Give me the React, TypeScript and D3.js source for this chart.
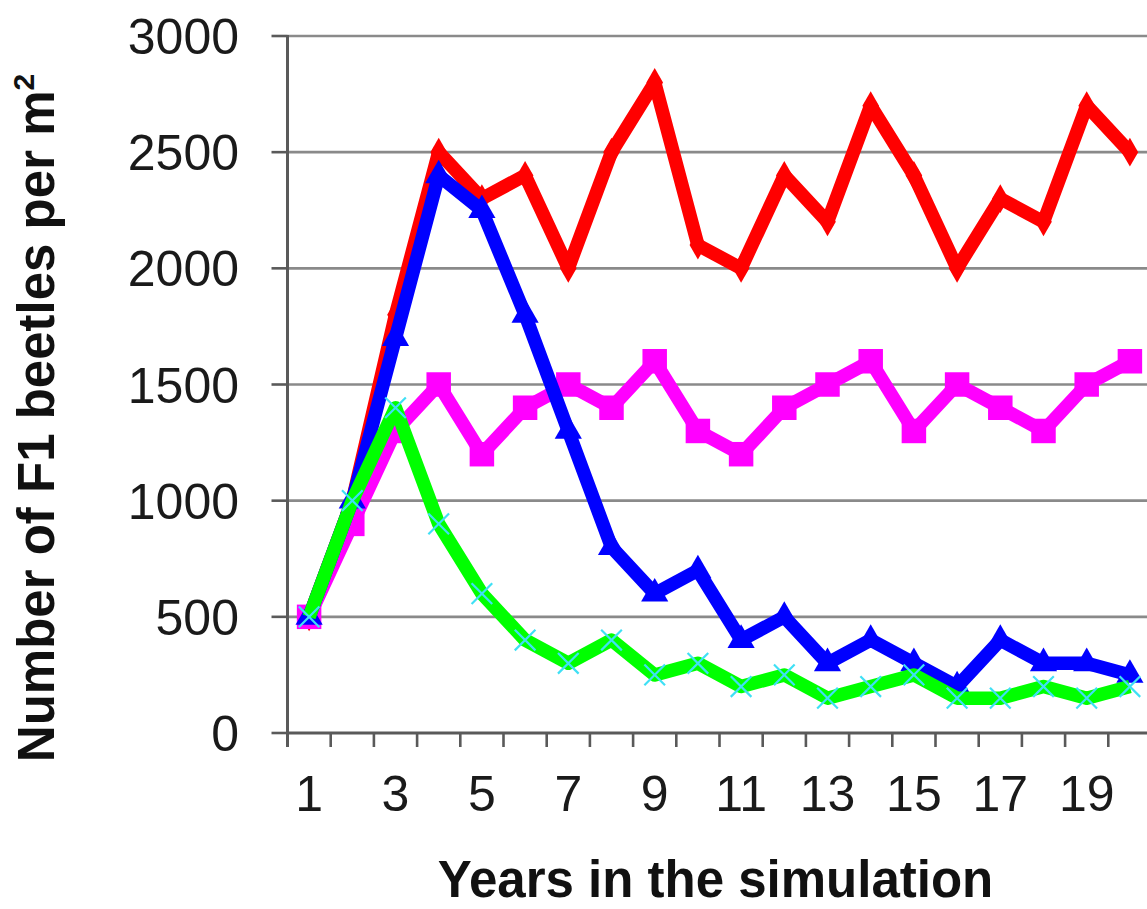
import React from "react";
import * as d3 from "d3";

const years = [1, 2, 3, 4, 5, 6, 7, 8, 9, 10, 11, 12, 13, 14, 15, 16, 17, 18, 19, 20];
const redSeries = [500, 1000, 1800, 2500, 2300, 2400, 2000, 2500, 2800, 2100, 2000, 2400, 2200, 2700, 2400, 2000, 2300, 2200, 2700, 2500];
const magentaSeries = [500, 900, 1300, 1500, 1200, 1400, 1500, 1400, 1600, 1300, 1200, 1400, 1500, 1600, 1300, 1500, 1400, 1300, 1500, 1600];
const blueSeries = [500, 1000, 1700, 2400, 2250, 1800, 1300, 800, 600, 700, 400, 500, 300, 400, 300, 200, 400, 300, 300, 250];
const greenSeries = [500, 1000, 1400, 900, 600, 400, 300, 400, 250, 300, 200, 250, 150, 200, 250, 150, 150, 200, 150, 200];
const yTicks = [0, 500, 1000, 1500, 2000, 2500, 3000];
const xTickLabels = ["1", "3", "5", "7", "9", "11", "13", "15", "17", "19"];

const W = 1147;
const H = 909;
const left = 287.5;
const right = 1151.5;
const top = 36;
const bottom = 733;

const FONT = "'Liberation Sans', Arial, Helvetica, sans-serif";

export default function App() {
  const x = d3.scaleBand<string>().domain(years.map(String)).range([left, right]).paddingInner(0).paddingOuter(0);
  const y = d3.scaleLinear().domain([0, 3000]).range([bottom, top]);
  const cx = (i: number) => (x(String(years[i])) as number) + x.bandwidth() / 2;
  const line = d3
    .line<number>()
    .x((_, i) => cx(i))
    .y((v) => y(v));

  const boundaries = years.map((yr) => x(String(yr)) as number).concat([right]);

  const diamond = d3.symbol().type(d3.symbolDiamond).size(240)() as string;
  const square = d3.symbol().type(d3.symbolSquare).size(600)() as string;
  const triangle = d3.symbol().type(d3.symbolTriangle).size(320)() as string;
  const cross = d3.symbol().type(d3.symbolX).size(280)() as string;

  const lw = 13.5;

  return (
    <svg
      width={W}
      height={H}
      style={{ position: "absolute", left: 0, top: 0, background: "#fff" }}
      xmlns="http://www.w3.org/2000/svg"
    >
      <rect x={0} y={0} width={W} height={H} fill="#fff" />
      {/* gridlines */}
      {yTicks.slice(1).map((t) => (
        <line key={"g" + t} x1={left} x2={right} y1={y(t)} y2={y(t)} stroke="#8a8a8a" strokeWidth={2.6} />
      ))}
      {/* y axis */}
      <line x1={left} x2={left} y1={top - 1} y2={bottom + 14} stroke="#5a5a5a" strokeWidth={3} />
      {yTicks.map((t) => (
        <line key={"yt" + t} x1={left - 16} x2={left} y1={y(t)} y2={y(t)} stroke="#5a5a5a" strokeWidth={2.6} />
      ))}
      {yTicks.map((t) => (
        <text
          key={"yl" + t}
          x={239}
          y={y(t)}
          dy="0.36em"
          textAnchor="end"
          fontFamily={FONT}
          fontSize={50}
          fill="#1a1a1a"
        >
          {t}
        </text>
      ))}
      {/* x axis */}
      <line x1={left} x2={right} y1={bottom} y2={bottom} stroke="#5a5a5a" strokeWidth={3} />
      {boundaries.map((b, i) => (
        <line key={"xt" + i} x1={b} x2={b} y1={bottom} y2={bottom + 14} stroke="#5a5a5a" strokeWidth={2.6} />
      ))}
      {xTickLabels.map((lab) => (
        <text
          key={"xl" + lab}
          x={(x(lab) as number) + x.bandwidth() / 2}
          y={793}
          dy="0.36em"
          textAnchor="middle"
          fontFamily={FONT}
          fontSize={50}
          fill="#1a1a1a"
        >
          {lab}
        </text>
      ))}

      {/* red series */}
      <path d={line(redSeries) as string} fill="none" stroke="#ff0000" strokeWidth={lw} strokeLinejoin="round" />
      {redSeries.map((v, i) => (
        <path key={"rm" + i} d={diamond} transform={`translate(${cx(i)},${y(v)})`} fill="#ff0000" />
      ))}
      {/* magenta series */}
      <path d={line(magentaSeries) as string} fill="none" stroke="#ff00ff" strokeWidth={lw} strokeLinejoin="round" />
      {magentaSeries.map((v, i) => (
        <path key={"mm" + i} d={square} transform={`translate(${cx(i)},${y(v)})`} fill="#ff00ff" />
      ))}
      {/* blue series */}
      <path d={line(blueSeries) as string} fill="none" stroke="#0000ff" strokeWidth={lw} strokeLinejoin="round" />
      {blueSeries.map((v, i) => (
        <path key={"bm" + i} d={triangle} transform={`translate(${cx(i)},${y(v)})`} fill="#0000ff" />
      ))}
      {/* green series */}
      <path d={line(greenSeries) as string} fill="none" stroke="#00ff00" strokeWidth={lw} strokeLinejoin="round" />
      {greenSeries.map((v, i) => (
        <path
          key={"gm" + i}
          d={cross}
          transform={`translate(${cx(i)},${y(v)})`}
          fill="none"
          stroke="#3fe0f5"
          strokeWidth={2.2}
        />
      ))}

      {/* axis titles */}
      <text
        transform={`translate(54,418) rotate(-90)`}
        textAnchor="middle"
        fontFamily={FONT}
        fontWeight="bold"
        fontSize={51}
        fill="#111"
      >
        Number of F1 beetles per m
        <tspan fontSize={30} dy={-20}>
          2
        </tspan>
      </text>
      <text
        x={(left + right) / 2 - 4}
        y={897}
        textAnchor="middle"
        fontFamily={FONT}
        fontWeight="bold"
        fontSize={51}
        fill="#111"
      >
        Years in the simulation
      </text>
    </svg>
  );
}
